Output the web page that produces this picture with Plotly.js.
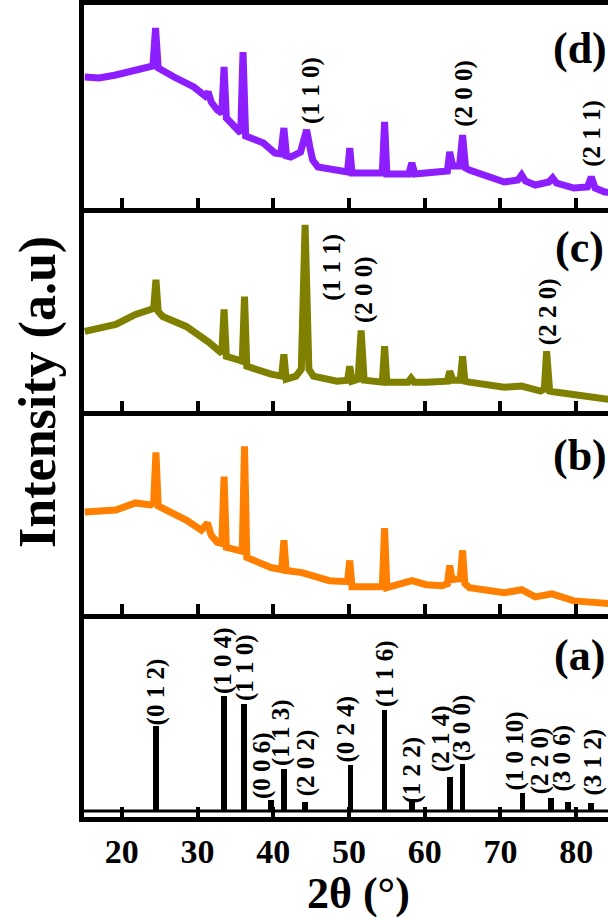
<!DOCTYPE html>
<html>
<head>
<meta charset="utf-8">
<script src="https://cdn.plot.ly/plotly-3.0.1.min.js"></script>
<style>
html,body{margin:0;padding:0;overflow:hidden;background:#fff;width:608px;height:917px;}
#chart{width:640px;height:917px;}
</style>
</head>
<body>
<div id="chart"></div>
<script>
// ---- Panel (d) ----
const dX = [15.1,17.0,19.2,21.8,23.3,24.1,24.45,24.8,26.9,29.5,31.0,31.4,31.8,32.6,33.2,33.5,33.8,35.1,35.7,36.0,36.35,38.7,40.2,41.0,41.4,41.75,42.3,43.6,44.1,44.4,44.8,45.2,45.9,49.0,49.8,50.1,50.4,53.0,54.4,54.7,55.0,57.9,58.3,58.7,60.2,62.3,63.0,63.3,63.7,64.6,65.0,65.4,65.9,70.5,72.3,72.8,73.3,74.6,76.4,76.9,77.4,79.7,81.5,82.0,82.5,83.8,85.0];
const dY = [131,130,133,138,141,142,180,140,131,121,112,116,106,98,95,141,90,78,75,156,72,65,55,54,80,52,51,56,72,78,62,48,41,36,36,60,35,35,35,86,34,34,45,34,35,35,37,56,42,42,73,40,38,26,28,33,27,23,26,30,25,20,21,31,20,16,15];
// ---- Panel (c) ----
const cX = [15.1,19.2,21.8,23.9,24.2,24.5,24.8,25.4,28.5,31.5,32.8,33.2,33.5,33.8,35.1,35.9,36.2,36.5,39.7,41.1,41.4,41.7,43.0,43.7,44.2,44.7,45.3,48.4,49.8,50.1,50.4,51.2,51.6,52.0,54.4,54.7,55.0,57.8,58.2,58.6,60.2,63.0,63.3,63.7,64.7,65.0,65.3,65.9,70.5,72.8,75.3,75.8,76.1,76.5,77.2,80.7,84.0,85.0];
const cY = [80,87,97,102,103,132,100,95,85,69,60,58,102,55,52,50,115,45,37,35,57,32,35,42,187,42,35,30,31,45,30,32,81,31,29,65,29,29,33,29,29,30,40,31,31,55,30,29,24,25,20,22,60,20,19,15,12,11];
// ---- Panel (b) ----
const bX = [15.1,19.2,21.8,23.8,24.2,24.5,24.8,25.4,28.5,30.5,31.3,31.8,32.6,33.2,33.5,33.8,35.2,35.9,36.2,36.5,39.7,41.1,41.4,41.7,43.8,47.4,49.8,50.1,50.4,53.0,54.4,54.7,55.0,58.3,60.2,62.3,63.0,63.3,63.6,64.7,65.0,65.3,65.9,70.5,72.8,74.6,76.8,79.7,84.0,85.0];
const bY = [101,103,110,108,110,160,107,105,93,83,90,78,71,70,136,66,63,62,166,56,46,44,73,43,41,33,32,53,27,28,27,85,26,33,29,28,30,48,34,35,63,30,26,21,24,17,20,13,10,10];
// ---- Panel (a): reference sticks ----
const aX = [24.5,33.5,36.1,39.7,41.4,44.2,50.2,54.7,58.3,63.3,65.0,72.9,76.7,78.9,82.0];
const aY = [84,114,106,10,41,8,45,100,9,33,46,17,12,8,7];
const aLabels = ["(0 1 2)","(1 0 4)","(1 1 0)","(0 0 6)","(1 1 3)","(2 0 2)","(0 2 4)","(1 1 6)","(1 2 2)","(2 1 4)","(3 0 0)","(1 0 10)","(2 2 0)","(3 0 6)","(3 1 2)"];
const aLabelX = [24.5,33.3,36.2,38.45,40.95,44.3,49.6,54.7,58.2,62.1,64.9,71.8,75.2,78.0,82.1];
const aLabelY = [84,115,108,10,43,13,47,102,5,37,48,18,15,17,13];
// hkl labels on the other panels
const dLabels = ["(1 1 0)","(2 0 0)","(2 1 1)"];
const dLabelX = [44.9,65.1,82.0];
const dLabelY = [83,80,40];
const cLabels = ["(1 1 1)","(2 0 0)","(2 2 0)"];
const cLabelX = [47.7,52.0,76.2];
const cLabelY = [110,87,65];
const panelNames = ["(a)","(b)","(c)","(d)"];
const tickVals = [20,30,40,50,60,70,80];

const serif = 'Liberation Serif, Times New Roman, serif';
const traces = [
  {type:'bar', x:aX, y:aY, width:0.75, marker:{color:'#000', line:{width:0}}, xaxis:'x', yaxis:'y', hoverinfo:'skip'},
  {type:'scatter', mode:'lines', x:bX, y:bY, line:{color:'#FF8000', width:7}, xaxis:'x2', yaxis:'y2'},
  {type:'scatter', mode:'lines', x:cX, y:cY, line:{color:'#7F7F00', width:7}, xaxis:'x3', yaxis:'y3'},
  {type:'scatter', mode:'lines', x:dX, y:dY, line:{color:'#8C1EFF', width:7}, xaxis:'x4', yaxis:'y4'}
];

function xax(anchor, showLabels, mirror){
  return {anchor:anchor, range:[15,85], tickvals:tickVals, ticktext:tickVals.map(String),
    ticks:'inside', ticklen:10, tickwidth:4, tickcolor:'#000',
    showline:true, linewidth:5, linecolor:'#000', mirror:mirror,
    showgrid:false, zeroline:false, showticklabels:showLabels,
    tickfont:{family:serif, size:34, color:'#000', weight:'bold'}};
}
function yax(domain, range){
  return {domain:domain, range:range, showticklabels:false, ticks:'', showgrid:false, zeroline:false,
    showline:true, linewidth:5, linecolor:'#000', mirror:true, fixedrange:true};
}

const annotations = [];
function hkl(labels, xs, ys, xr, yr){
  labels.forEach((t,i)=>annotations.push({text:t, x:xs[i], y:ys[i], xref:xr, yref:yr, showarrow:false,
    textangle:-90, xanchor:'center', yanchor:'bottom', borderpad:0,
    font:{family:serif, size:25, color:'#000', weight:'bold'}}));
}
hkl(aLabels, aLabelX, aLabelY, 'x', 'y');
hkl(dLabels, dLabelX, dLabelY, 'x4', 'y4');
hkl(cLabels, cLabelX, cLabelY, 'x3', 'y3');
const letterY = [155,157,164,160];
const letterRefs = [['x','y'],['x2','y2'],['x3','y3'],['x4','y4']];
panelNames.forEach((t,i)=>annotations.push({text:t, x:80.5, y:letterY[i], xref:letterRefs[i][0], yref:letterRefs[i][1],
  showarrow:false, xanchor:'center', yanchor:'middle', font:{family:serif, size:44, color:'#000', weight:'bold'}}));
annotations.push({text:'Intensity (a.u)', xref:'paper', yref:'paper', x:-0.087, y:0.5234, textangle:-90,
  showarrow:false, xanchor:'center', yanchor:'middle', font:{family:serif, size:52, color:'#000', weight:'bold'}});
annotations.push({text:'2θ (°)', xref:'paper', yref:'paper', x:0.517, y:-0.0945,
  showarrow:false, xanchor:'center', yanchor:'middle', font:{family:serif, size:44, color:'#000', weight:'bold'}});

const layout = {
  width:640, height:917,
  margin:{l:84, r:26, t:5, b:100},
  paper_bgcolor:'#fff', plot_bgcolor:'#fff',
  showlegend:false, bargap:0,
  xaxis: xax('y', true, false),
  xaxis2: xax('y2', false, false),
  xaxis3: xax('y3', false, false),
  xaxis4: xax('y4', false, true),
  yaxis: yax([0,0.25],[-7,196]),
  yaxis2: yax([0.25,0.5],[0,201]),
  yaxis3: yax([0.5,0.75],[0,204]),
  yaxis4: yax([0.75,1],[0,203]),
  annotations: annotations,
  shapes:[{type:'line', xref:'x', yref:'y', x0:15, x1:85, y0:-1, y1:-1, line:{color:'#000', width:3}}]
};
Plotly.newPlot('chart', traces, layout, {displayModeBar:false, staticPlot:true});
</script>
</body>
</html>
